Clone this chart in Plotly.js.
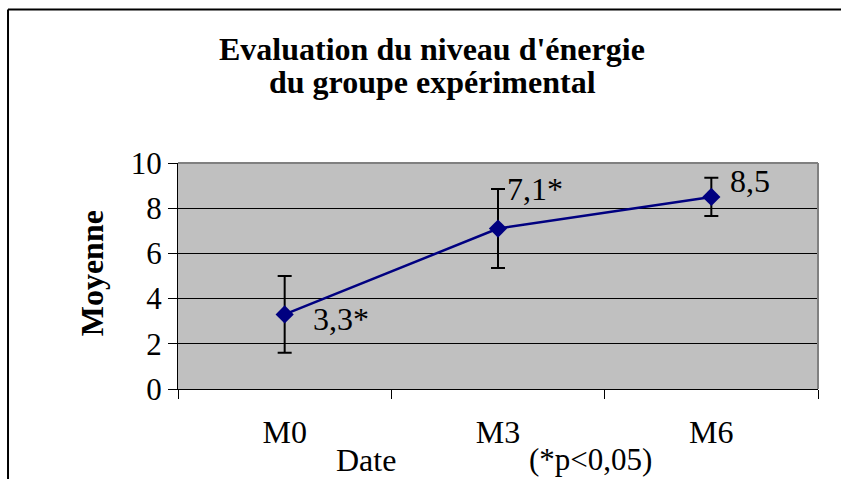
<!DOCTYPE html>
<html>
<head>
<meta charset="utf-8">
<script src="https://cdn.plot.ly/plotly-3.0.1.min.js"></script>
<style>
html,body{margin:0;padding:0;background:#fff;}
#chart{width:841px;height:479px;}
</style>
</head>
<body>
<div id="chart"></div>
<script>
// Data
const categories = ['M0', 'M3', 'M6'];
const means = [3.3, 7.1, 8.5];
const errors = [1.7, 1.75, 0.85];
const labels = ['3,3*', '7,1*', '8,5'];
const titleLines = ["Evaluation du niveau d'énergie", "du groupe expérimental"];
const yTitle = 'Moyenne';
const xTitle = 'Date';
const note = '(*p<0,05)';

const serif = 'Liberation Serif';

// label offsets (pixels) relative to each point
const labelShift = [[26, -5], [7, 40], [17, 16]];

const trace = {
  type: 'scatter',
  mode: 'lines+markers',
  x: categories,
  y: means,
  line: {color: '#000080', width: 2.5},
  marker: {symbol: 'diamond', size: 14, color: '#000080'},
  error_y: {type: 'data', array: errors, visible: true, color: '#000000', thickness: 2, width: 7},
  hoverinfo: 'skip',
  cliponaxis: false
};

const annotations = categories.map((c, i) => ({
  xref: 'x', yref: 'y', x: c, y: means[i],
  text: labels[i], showarrow: false,
  xanchor: 'left', yanchor: 'middle',
  xshift: labelShift[i][0], yshift: labelShift[i][1],
  font: {family: serif, size: 32, color: '#000'}
}));

// title lines (paper coords: plot spans x 178..818 px, y 163..389 px)
const titleY = [(389 - 49) / 226, (389 - 82) / 226];
titleLines.forEach((t, i) => annotations.push({
  xref: 'paper', yref: 'paper', x: (432 - 178) / 640, y: titleY[i],
  text: '<b>' + t + '</b>', showarrow: false, xanchor: 'center', yanchor: 'middle',
  font: {family: serif, size: 32, color: '#000'}
}));

annotations.push(
  {xref: 'paper', yref: 'paper', x: -0.134, y: 0.513, text: '<b>' + yTitle + '</b>',
   textangle: -90, showarrow: false, xanchor: 'center', yanchor: 'middle',
   font: {family: serif, size: 32, color: '#000'}},
  {xref: 'paper', yref: 'paper', x: 0.2938, y: -0.314, text: xTitle,
   showarrow: false, xanchor: 'center', yanchor: 'middle',
   font: {family: serif, size: 32, color: '#000'}},
  {xref: 'paper', yref: 'paper', x: 0.644, y: -0.314, text: note,
   showarrow: false, xanchor: 'center', yanchor: 'middle',
   font: {family: serif, size: 31, color: '#000'}}
);

const layout = {
  width: 841, height: 479,
  margin: {l: 178, r: 23, t: 163, b: 90, pad: 0},
  paper_bgcolor: '#ffffff',
  plot_bgcolor: '#c0c0c0',
  showlegend: false,
  font: {family: serif, color: '#000'},
  xaxis: {
    type: 'category',
    range: [-0.5, 2.5],
    tickson: 'boundaries',
    ticks: 'outside', ticklen: 9, tickwidth: 1, tickcolor: '#000',
    showgrid: false, zeroline: false,
    showline: true, linecolor: '#000', linewidth: 1,
    ticklabelstandoff: 15,
    tickfont: {family: serif, size: 32, color: '#000'},
    fixedrange: true
  },
  yaxis: {
    range: [0, 10], dtick: 2, tick0: 0,
    ticks: 'outside', ticklen: 9, tickwidth: 1, tickcolor: '#000',
    showgrid: true, gridcolor: '#000', gridwidth: 1,
    zeroline: false,
    showline: true, linecolor: '#000', linewidth: 1,
    ticklabelstandoff: 0,
    tickfont: {family: serif, size: 31, color: '#000'},
    fixedrange: true
  },
  shapes: [
    {type: 'line', xref: 'paper', yref: 'paper', x0: 1, x1: 1, y0: 0, y1: 1,
     line: {color: '#808080', width: 2}, layer: 'above'},
    {type: 'line', xref: 'paper', yref: 'paper', x0: 0, x1: 1, y0: 1, y1: 1,
     line: {color: '#808080', width: 2}, layer: 'above'},
    {type: 'line', xref: 'paper', yref: 'paper', x0: -0.2656, x1: -0.2656, y0: -0.6, y1: 1.6792,
     line: {color: '#000', width: 2}},
    {type: 'line', xref: 'paper', yref: 'paper', x0: -0.2656, x1: 1.2, y0: 1.6792, y1: 1.6792,
     line: {color: '#000', width: 2}}
  ],
  annotations: annotations
};

Plotly.newPlot('chart', [trace], layout, {displayModeBar: false, staticPlot: true});
</script>
</body>
</html>
